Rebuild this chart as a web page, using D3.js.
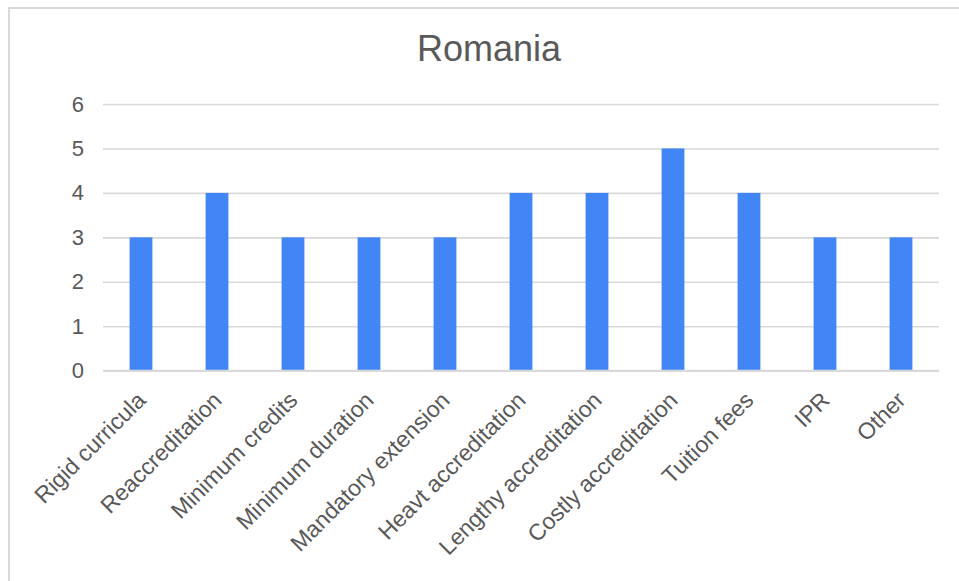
<!DOCTYPE html>
<html>
<head>
<meta charset="utf-8">
<script src="https://cdn.jsdelivr.net/npm/d3@7/dist/d3.min.js"></script>
<style>
  html, body { margin: 0; padding: 0; background: #fff; }
  svg { display: block; font-family: Arial, "Liberation Sans", sans-serif; }
</style>
</head>
<body>
<svg id="chart" width="959" height="581"></svg>
<script>
const title = "Romania";
const categories = ["Rigid curricula", "Reaccreditation", "Minimum credits", "Minimum duration",
  "Mandatory extension", "Heavt accreditation", "Lengthy accreditation", "Costly accreditation",
  "Tuition fees", "IPR", "Other"];
const values = [3, 4, 3, 3, 3, 4, 4, 5, 4, 3, 3];
const yTicks = [0, 1, 2, 3, 4, 5, 6];

const svg = d3.select("#chart");
const W = 959, H = 581;
const margin = { left: 103, top: 104 };
const plotRight = 939, plotBottom = 370.7;

svg.append("rect").attr("width", W).attr("height", H).attr("fill", "#fff");
// outer frame (extends off canvas to the right and bottom)
svg.append("rect")
  .attr("x", 9).attr("y", 8).attr("width", 1200).attr("height", 1200)
  .attr("fill", "none").attr("stroke", "#d9d9d9").attr("stroke-width", 2);

const x = d3.scaleBand().domain(categories).range([margin.left, plotRight]).paddingInner(0.7).paddingOuter(0.35);
const y = d3.scaleLinear().domain([0, 6]).range([plotBottom, margin.top]);

// gridlines
const yAxis = d3.axisLeft(y).tickValues(yTicks).tickSize(-(plotRight - margin.left)).tickPadding(19).tickFormat(d3.format("d"));
const gy = svg.append("g").attr("transform", `translate(${margin.left},0)`).call(yAxis);
gy.select(".domain").remove();
gy.selectAll(".tick line").attr("stroke", "#d9d9d9").attr("stroke-width", 1.6);
gy.selectAll(".tick text").attr("fill", "#595959").attr("font-size", 22)
  .attr("font-family", "Arial, 'Liberation Sans', sans-serif");

// bars
svg.append("g").selectAll("rect").data(values).join("rect")
  .attr("x", (d, i) => x(categories[i]))
  .attr("y", d => y(d))
  .attr("width", x.bandwidth())
  .attr("height", d => y(0) - y(d))
  .attr("fill", "#4285f4");

// baseline
svg.append("line").attr("x1", margin.left).attr("x2", plotRight)
  .attr("y1", y(0)).attr("y2", y(0)).attr("stroke", "#d9d9d9").attr("stroke-width", 2);

// x axis labels
const xAxis = d3.axisBottom(x).tickSize(0).tickPadding(0);
const gx = svg.append("g").attr("transform", `translate(0,${y(0)})`).call(xAxis);
gx.select(".domain").remove();
gx.selectAll(".tick text")
  .attr("fill", "#595959").attr("font-size", 23)
  .attr("font-family", "Arial, 'Liberation Sans', sans-serif")
  .attr("text-anchor", "end")
  .attr("dy", "0")
  .attr("transform", "translate(6,31) rotate(-45)");

// title
svg.append("text").attr("x", 489).attr("y", 61).attr("text-anchor", "middle")
  .attr("font-size", 36).attr("fill", "#595959").text(title);
</script>
</body>
</html>
